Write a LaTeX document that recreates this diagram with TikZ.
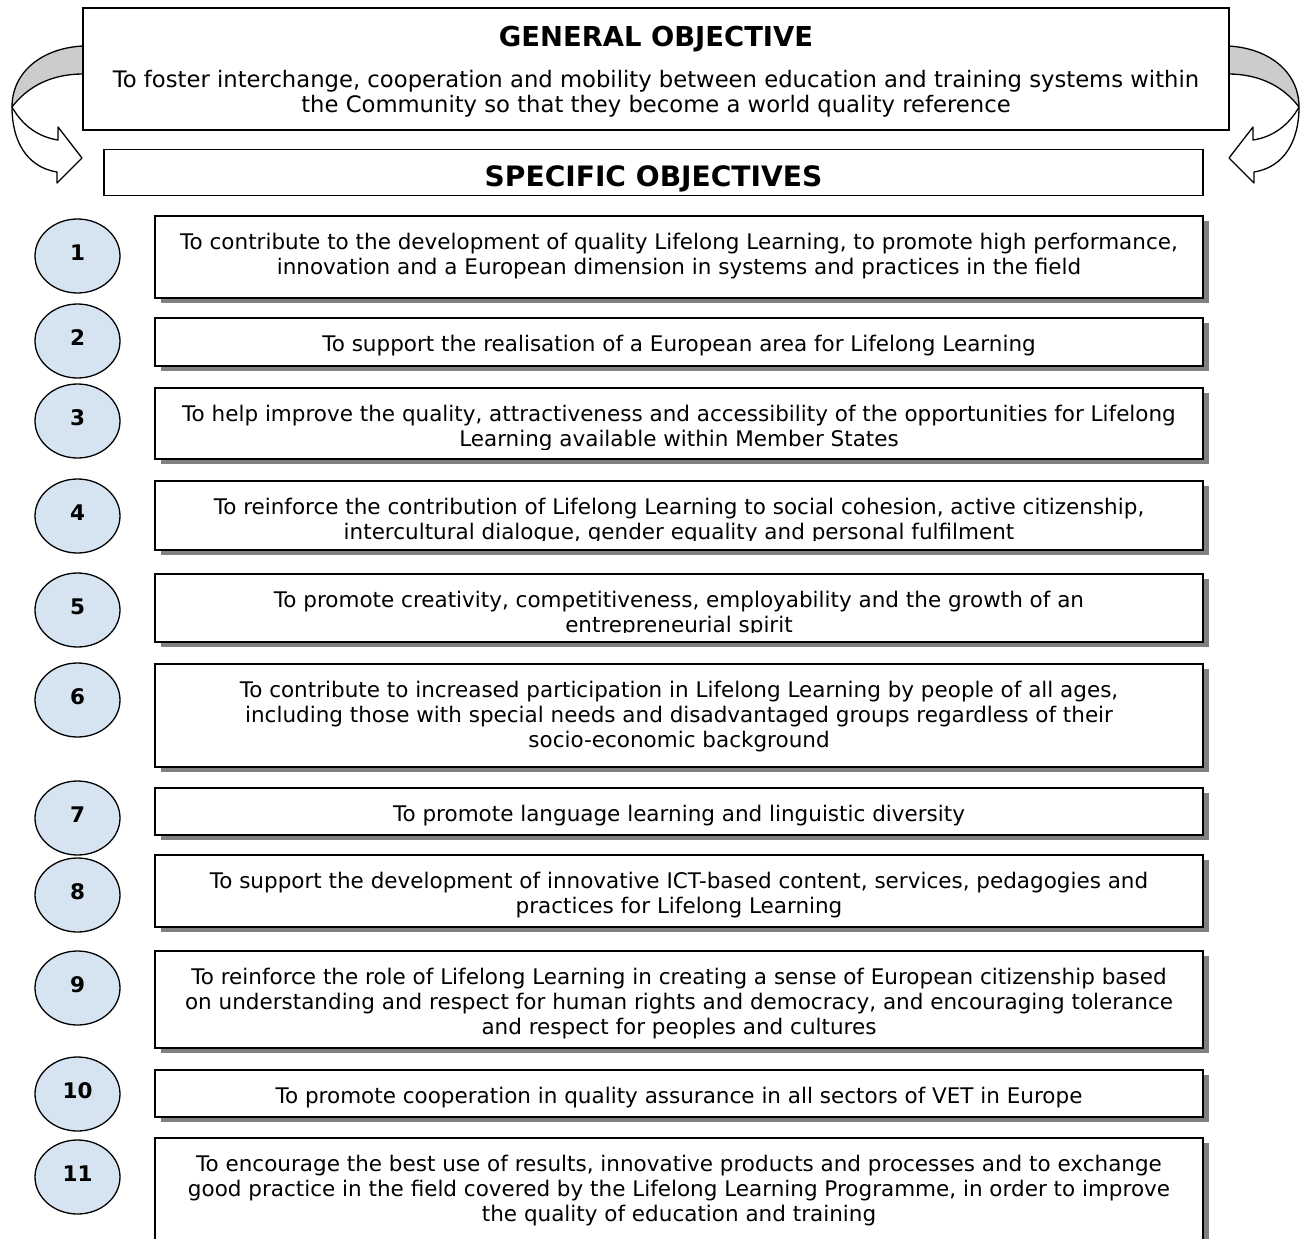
\documentclass[tikz,border=0pt]{standalone}
\usepackage{fontspec}
\setmainfont{DejaVu Sans}
\usetikzlibrary{shapes.geometric,shadows}

\definecolor{bandgray}{RGB}{204,204,204}
\definecolor{shadowgray}{RGB}{128,128,128}
\definecolor{circblue}{RGB}{214,227,241}

\tikzset{
  bodytext/.style={align=center, inner sep=0pt, anchor=north,
    execute at begin node={\rule{0pt}{17pt}}, font=\fontsize{21.5}{25.3}\selectfont},
  headtext/.style={inner sep=0pt, anchor=base, font=\bfseries\fontsize{27.4}{30}\selectfont},
  plainbox/.style={draw, line width=1.8pt, fill=white, inner sep=0pt},
  objbox/.style={plainbox, minimum width=1048,
    drop shadow={shadow xshift=6pt, shadow yshift=-5pt, fill=shadowgray, opacity=1}},
  numcirc/.style={ellipse, draw, line width=1.3pt, fill=circblue, inner sep=0pt,
    minimum width=85, minimum height=74, text depth=6pt,
    font=\bfseries\fontsize{21.5}{25}\selectfont},
  arrowline/.style={draw=black, line width=1.3pt, line join=round}
}

% #1 number, #2 box top, #3 box bottom, #4 circle centre, #5 text
\newcommand{\objective}[5]{%
  \node[objbox, minimum height={#3-#2}] (box#1) at (679,{(#2+#3)/2}) {};
  \begin{scope}
    \clip ([xshift=2pt,yshift=-2pt]box#1.north west) rectangle ([xshift=-2pt,yshift=10pt]box#1.south east);
    \node[bodytext] (txt#1) at ([yshift=-17.5pt]box#1.north) {#5};
  \end{scope}
  \node[numcirc] (num#1) at (77.5,#4) {#1};
}

\begin{document}
\begin{tikzpicture}[x=1pt, y=-1pt]
\useasboundingbox (0,0) rectangle (1309,1239);
\clip (0,0) rectangle (1309,1239);

% curved arrows on both sides
\foreach \s/\o in {1/0, -1/1311} {
  \begin{scope}[shift={(\o,0)}, xscale=\s]
    \filldraw[arrowline, fill=bandgray] (83,46) .. controls (42,48) and (12,72) .. (12,107)
      .. controls (28,86) and (52,74) .. (83,74) -- cycle;
    \filldraw[arrowline, fill=white] (12,107) .. controls (22,125) and (38,137) .. (58,140)
      -- (58,127) -- (82,158) -- (57,183) -- (57,172)
      .. controls (26,167) and (12,140) .. (12,107) -- cycle;
  \end{scope}
}

% general objective
\node[plainbox, minimum width=1146, minimum height=122] (gen) at (656,69) {};
\node[headtext] (gentitle) at (656,46.7) {GENERAL OBJECTIVE};
\node[bodytext, font=\fontsize{22.7}{25.5}\selectfont] (gentext) at (656,70)
  {To foster interchange, cooperation and mobility between education and training systems within\\
   the Community so that they become a world quality reference};

% specific objectives
\node[plainbox, minimum width=1099, minimum height=46] (spec) at (653.5,172.5) {};
\node[headtext, font=\bfseries\fontsize{28.1}{30}\selectfont] (spectitle) at (653.5,186.7) {SPECIFIC OBJECTIVES};

\objective{1}{216}{298}{256}{To contribute to the development of quality Lifelong Learning, to promote high performance,\\
  innovation and a European dimension in systems and practices in the field}
\objective{2}{318}{366}{341}{To support the realisation of a European area for Lifelong Learning}
\objective{3}{388}{459}{421}{To help improve the quality, attractiveness and accessibility of the opportunities for Lifelong\\
  Learning available within Member States}
\objective{4}{481}{550}{516}{To reinforce the contribution of Lifelong Learning to social cohesion, active citizenship,\\
  intercultural dialogue, gender equality and personal fulfilment}
\objective{5}{574}{642}{610}{To promote creativity, competitiveness, employability and the growth of an\\
  entrepreneurial spirit}
\objective{6}{664}{767}{700}{To contribute to increased participation in Lifelong Learning by people of all ages,\\
  including those with special needs and disadvantaged groups regardless of their\\
  socio-economic background}
\objective{7}{788}{835}{818}{To promote language learning and linguistic diversity}
\objective{8}{855}{927}{895}{To support the development of innovative ICT-based content, services, pedagogies and\\
  practices for Lifelong Learning}
\objective{9}{951}{1048}{988}{To reinforce the role of Lifelong Learning in creating a sense of European citizenship based\\
  on understanding and respect for human rights and democracy, and encouraging tolerance\\
  and respect for peoples and cultures}
\objective{10}{1070}{1117}{1094}{To promote cooperation in quality assurance in all sectors of VET in Europe}
\objective{11}{1138}{1290}{1177}{To encourage the best use of results, innovative products and processes and to exchange\\
  good practice in the field covered by the Lifelong Learning Programme, in order to improve\\
  the quality of education and training}
\end{tikzpicture}
\end{document}
